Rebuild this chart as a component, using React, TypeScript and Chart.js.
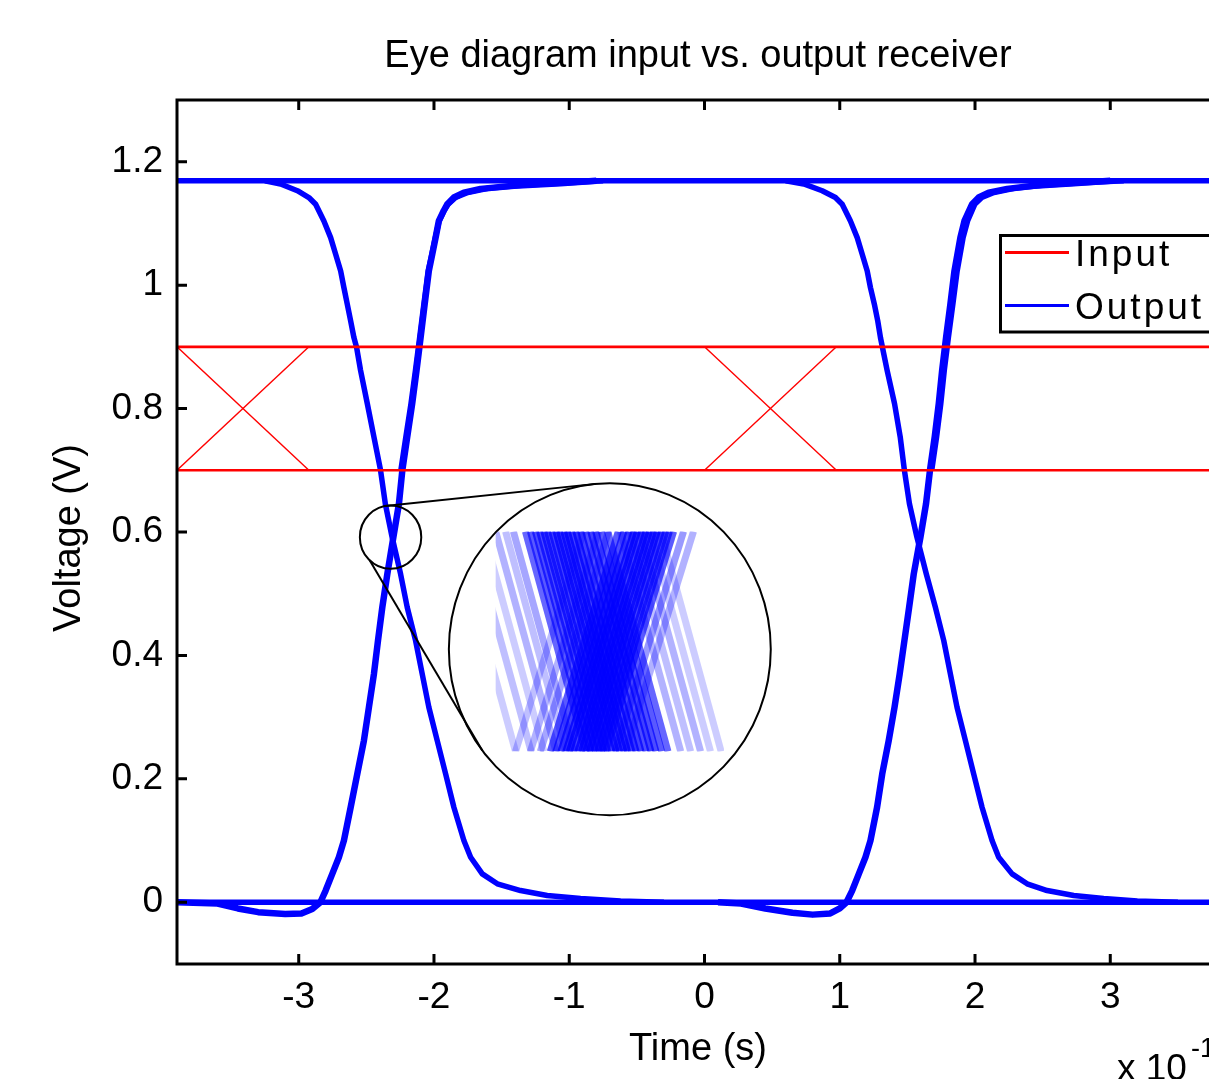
import React, { useEffect, useRef } from "react";
import { Chart, registerables } from "chart.js";

Chart.register(...registerables);

// ---------------- data (time in units of 1e-10 s, voltage in V) ----------------
const xTickValues = [-3, -2, -1, 0, 1, 2, 3];
const xTickLabels = ["-3", "-2", "-1", "0", "1", "2", "3"];
const yTickValues = [0, 0.2, 0.4, 0.6, 0.8, 1, 1.2];
const yTickLabels = ["0", "0.2", "0.4", "0.6", "0.8", "1", "1.2"];

const titleText = "Eye diagram input vs. output receiver";
const xLabelText = "Time (s)";
const yLabelText = "Voltage (V)";

// Input (red)
const inputHigh: number[][] = [[-3.9, 0.9], [3.9, 0.9]];
const inputLow: number[][] = [[-3.9, 0.7], [3.9, 0.7]];
const inputFall1: number[][] = [[-3.9, 0.9], [-2.925, 0.7]];
const inputRise1: number[][] = [[-3.9, 0.7], [-2.925, 0.9]];
const inputFall2: number[][] = [[0.0, 0.9], [0.975, 0.7]];
const inputRise2: number[][] = [[0.0, 0.7], [0.975, 0.9]];

// Output (blue)
const outputHigh: number[][] = [[-3.9, 1.169], [3.9, 1.169]];
const outputLow: number[][] = [[-3.9, 0], [3.9, 0]];
const outputFall1: number[][] = [
  [-3.25, 1.169], [-3.134, 1.164], [-3.01, 1.153], [-2.925, 1.142], [-2.875, 1.131],
  [-2.814, 1.104], [-2.764, 1.077], [-2.727, 1.05], [-2.69, 1.023], [-2.666, 0.996],
  [-2.641, 0.969], [-2.616, 0.942], [-2.592, 0.915], [-2.572, 0.899], [-2.543, 0.862],
  [-2.493, 0.808], [-2.444, 0.754], [-2.395, 0.7], [-2.36, 0.646], [-2.31, 0.592],
  [-2.247, 0.532], [-2.198, 0.478], [-2.136, 0.424], [-2.087, 0.37], [-2.038, 0.316],
  [-1.976, 0.262], [-1.914, 0.208], [-1.853, 0.154], [-1.779, 0.1], [-1.729, 0.073],
  [-1.643, 0.046], [-1.532, 0.03], [-1.36, 0.019], [-1.163, 0.011], [-0.916, 0.006],
  [-0.62, 0.002], [-0.3, 0],
];
const outputRise1: number[][] = [
  [-3.9, 0], [-3.6, -0.002], [-3.45, -0.01], [-3.3, -0.016], [-3.1, -0.019],
  [-2.98, -0.018], [-2.9, -0.011], [-2.84, 0], [-2.801, 0.019], [-2.752, 0.046],
  [-2.703, 0.073], [-2.666, 0.1], [-2.616, 0.154], [-2.567, 0.208], [-2.518, 0.262],
  [-2.481, 0.316], [-2.444, 0.37], [-2.414, 0.424], [-2.382, 0.478], [-2.345, 0.532],
  [-2.3, 0.592], [-2.259, 0.646], [-2.234, 0.7], [-2.198, 0.754], [-2.161, 0.808],
  [-2.129, 0.862], [-2.099, 0.915], [-2.069, 0.969], [-2.038, 1.023], [-2.013, 1.05],
  [-1.988, 1.077], [-1.964, 1.104], [-1.927, 1.121], [-1.902, 1.131], [-1.853, 1.142],
  [-1.779, 1.15], [-1.656, 1.156], [-1.41, 1.161], [-1.064, 1.165], [-0.8, 1.169],
];
const outputRise1b: number[][] = [
  [-2.245, 0.7], [-2.208, 0.754],
  [-2.17, 0.808], [-2.137, 0.862], [-2.106, 0.915], [-2.075, 0.969], [-2.043, 1.023],
  [-2.016, 1.05], [-1.99, 1.077], [-1.962, 1.104], [-1.925, 1.121], [-1.895, 1.131],
  [-1.84, 1.142], [-1.75, 1.15], [-1.6, 1.157], [-1.35, 1.162], [-1.0, 1.166], [-0.75, 1.169],
];
const outputFall2: number[][] = [
  [0.6, 1.169], [0.734, 1.164], [0.87, 1.153], [0.968, 1.142], [1.018, 1.131],
  [1.079, 1.104], [1.129, 1.077], [1.166, 1.05], [1.203, 1.023], [1.227, 0.996],
  [1.256, 0.969], [1.281, 0.942], [1.301, 0.915], [1.35, 0.862], [1.405, 0.808],
  [1.447, 0.754], [1.478, 0.7], [1.515, 0.646], [1.57, 0.592], [1.64, 0.532],
  [1.707, 0.478], [1.769, 0.424], [1.818, 0.37], [1.867, 0.316], [1.929, 0.262],
  [1.99, 0.208], [2.052, 0.154], [2.126, 0.1], [2.175, 0.073], [2.274, 0.046],
  [2.385, 0.03], [2.533, 0.019], [2.73, 0.011], [2.951, 0.006], [3.2, 0.002], [3.5, 0],
];
const outputRise2: number[][] = [
  [0.1, 0], [0.27, -0.002], [0.45, -0.01], [0.65, -0.017], [0.8, -0.02],
  [0.93, -0.018], [1.0, -0.01], [1.05, 0], [1.092, 0.019], [1.141, 0.046],
  [1.19, 0.073], [1.227, 0.1], [1.276, 0.154], [1.314, 0.208], [1.362, 0.262],
  [1.405, 0.316], [1.443, 0.37], [1.478, 0.424], [1.513, 0.478], [1.547, 0.532],
  [1.597, 0.592], [1.638, 0.646], [1.667, 0.7], [1.702, 0.754], [1.732, 0.808],
  [1.757, 0.862], [1.786, 0.915], [1.818, 0.969], [1.848, 1.023], [1.892, 1.077],
  [1.922, 1.104], [1.978, 1.131], [2.027, 1.142], [2.101, 1.15], [2.237, 1.156],
  [2.434, 1.161], [2.73, 1.165], [3.0, 1.169],
];
const outputRise2b: number[][] = [
  [1.68, 0.7], [1.716, 0.754],
  [1.747, 0.808], [1.773, 0.862], [1.803, 0.915], [1.836, 0.969], [1.868, 1.023],
  [1.912, 1.077], [1.945, 1.104], [1.998, 1.131], [2.05, 1.142], [2.14, 1.15],
  [2.29, 1.157], [2.5, 1.162], [2.8, 1.166], [3.1, 1.169],
];

// Magnified inset (zoom of the first crossing)
const zoomSourceCenter = [-2.321, 0.5916]; // small circle centre (data)
const zoomSourceRadius = [0.227, 0.0513];
const zoomTargetCenter = [-0.7, 0.41]; // big circle centre (data)
const zoomTargetRadius = [1.19, 0.269];
const insetWindowX = [-2.482, -2.16];
const insetWindowY = [0.56, 0.628]; // [bottom, top]
const insetFallTop = [
  -2.539, -2.517, -2.499, -2.482, -2.468, -2.457, -2.44, -2.433, -2.426, -2.42,
  -2.414, -2.409, -2.403, -2.397, -2.392, -2.386, -2.381, -2.375, -2.369, -2.362,
  -2.355, -2.348, -2.341, -2.333, -2.324, -2.306, -2.292, -2.278, -2.264, -2.249,
];
const insetFallBottom = [
  -2.454, -2.432, -2.414, -2.397, -2.383, -2.372, -2.355, -2.348, -2.341, -2.335,
  -2.329, -2.324, -2.318, -2.312, -2.307, -2.301, -2.296, -2.29, -2.284, -2.277,
  -2.27, -2.263, -2.256, -2.248, -2.239, -2.221, -2.207, -2.193, -2.179, -2.164,
];
const insetFallDensity = [
  0.2, 0.25, 0.2, 0.3, 0.25, 0.35, 0.6, 0.65, 0.7, 0.7,
  0.75, 0.7, 0.75, 0.8, 0.75, 0.8, 0.8, 0.75, 0.8, 0.75,
  0.7, 0.75, 0.7, 0.65, 0.6, 0.3, 0.25, 0.3, 0.2, 0.2,
];
const insetRiseBottom = [
  -2.454, -2.433, -2.419, -2.405, -2.397, -2.39, -2.383, -2.378, -2.372, -2.366,
  -2.361, -2.355, -2.35, -2.344, -2.338, -2.333, -2.327, -2.313, -2.299,
];
const insetRiseTop = [
  -2.358, -2.337, -2.323, -2.309, -2.301, -2.294, -2.287, -2.282, -2.276, -2.27,
  -2.265, -2.259, -2.254, -2.248, -2.242, -2.237, -2.231, -2.217, -2.203,
];
const insetRiseDensity = [
  0.25, 0.3, 0.35, 0.65, 0.7, 0.75, 0.8, 0.8, 0.75, 0.8,
  0.8, 0.75, 0.8, 0.75, 0.7, 0.7, 0.65, 0.4, 0.3,
];
// connector lines: angle (deg) on small circle -> angle on big circle
const connectorAngles = [[100, 95], [227, 217.6]];

// ---------------- styling ----------------
const RED = "#ff0000";
const BLUE = "#0000ff";
const FONT = "'Liberation Sans', Arial, Helvetica, sans-serif";

const toPts = (arr: number[][]) => arr.map(([x, y]) => ({ x, y }));
const lineDs = (label: string, pts: number[][], color: string, width: number) => ({
  label,
  data: toPts(pts),
  borderColor: color,
  backgroundColor: color,
  borderWidth: width,
  pointRadius: 0,
  fill: false,
  tension: 0,
  borderJoinStyle: "round" as const,
});

const decorPlugin = {
  id: "decor",
  afterDatasetsDraw(chart: any) {
    const { ctx, scales } = chart;
    const xs = scales.x;
    const ys = scales.y;
    ctx.save();

    // ---- inset ----
    const scx = xs.getPixelForValue(zoomSourceCenter[0]);
    const scy = ys.getPixelForValue(zoomSourceCenter[1]);
    const srx = xs.getPixelForValue(zoomSourceCenter[0] + zoomSourceRadius[0]) - scx;
    const sry = scy - ys.getPixelForValue(zoomSourceCenter[1] + zoomSourceRadius[1]);
    const tcx = xs.getPixelForValue(zoomTargetCenter[0]);
    const tcy = ys.getPixelForValue(zoomTargetCenter[1]);
    const trx = xs.getPixelForValue(zoomTargetCenter[0] + zoomTargetRadius[0]) - tcx;
    const try_ = tcy - ys.getPixelForValue(zoomTargetCenter[1] + zoomTargetRadius[1]);
    const mx = trx / srx;
    const my = try_ / sry;
    const mag = (xd: number, yd: number) => [
      tcx + (xs.getPixelForValue(xd) - scx) * mx,
      tcy + (ys.getPixelForValue(yd) - scy) * my,
    ];
    const [wl, wt] = mag(insetWindowX[0], insetWindowY[1]);
    const [wr, wb] = mag(insetWindowX[1], insetWindowY[0]);
    ctx.save();
    ctx.beginPath();
    ctx.rect(wl, wt, wr - wl, wb - wt);
    ctx.clip();
    ctx.lineWidth = 7;
    insetFallTop.forEach((xt, i) => {
      const p0 = mag(xt, insetWindowY[1]);
      const p1 = mag(insetFallBottom[i], insetWindowY[0]);
      ctx.strokeStyle = `rgba(0,0,255,${insetFallDensity[i]})`;
      ctx.beginPath();
      ctx.moveTo(p0[0], p0[1]);
      ctx.lineTo(p1[0], p1[1]);
      ctx.stroke();
    });
    insetRiseBottom.forEach((xb, i) => {
      const p0 = mag(xb, insetWindowY[0]);
      const p1 = mag(insetRiseTop[i], insetWindowY[1]);
      ctx.strokeStyle = `rgba(0,0,255,${insetRiseDensity[i]})`;
      ctx.beginPath();
      ctx.moveTo(p0[0], p0[1]);
      ctx.lineTo(p1[0], p1[1]);
      ctx.stroke();
    });
    ctx.restore();

    ctx.strokeStyle = "#000";
    ctx.lineWidth = 2;
    ctx.beginPath();
    ctx.ellipse(scx, scy, srx, sry, 0, 0, Math.PI * 2);
    ctx.stroke();
    ctx.beginPath();
    ctx.ellipse(tcx, tcy, trx, try_, 0, 0, Math.PI * 2);
    ctx.stroke();
    connectorAngles.forEach(([a1, a2]) => {
      const r1 = (a1 * Math.PI) / 180;
      const r2 = (a2 * Math.PI) / 180;
      ctx.beginPath();
      ctx.moveTo(scx + srx * Math.cos(r1), scy - sry * Math.sin(r1));
      ctx.lineTo(tcx + trx * Math.cos(r2), tcy - try_ * Math.sin(r2));
      ctx.stroke();
    });
    ctx.restore();
  },
  afterDraw(chart: any) {
    const { ctx, chartArea: a, scales } = chart;
    const xs = scales.x;
    const ys = scales.y;
    ctx.save();

    // ---- axes box and inward ticks ----
    ctx.strokeStyle = "#000";
    ctx.lineWidth = 3;
    ctx.strokeRect(a.left, a.top, a.right - a.left, a.bottom - a.top);
    ctx.beginPath();
    xs.ticks.forEach((t: any) => {
      const p = xs.getPixelForValue(t.value);
      ctx.moveTo(p, a.bottom);
      ctx.lineTo(p, a.bottom - 10);
      ctx.moveTo(p, a.top);
      ctx.lineTo(p, a.top + 10);
    });
    ys.ticks.forEach((t: any) => {
      const p = ys.getPixelForValue(t.value);
      ctx.moveTo(a.left, p);
      ctx.lineTo(a.left + 10, p);
      ctx.moveTo(a.right, p);
      ctx.lineTo(a.right - 10, p);
    });
    ctx.stroke();

    // ---- texts ----
    ctx.fillStyle = "#000";
    ctx.textAlign = "center";
    ctx.textBaseline = "alphabetic";
    ctx.font = `38px ${FONT}`;
    ctx.fillText(titleText, 698, 67);
    ctx.fillText(xLabelText, 698, 1060);
    ctx.save();
    ctx.translate(80, 538);
    ctx.rotate(-Math.PI / 2);
    ctx.fillText(yLabelText, 0, 0);
    ctx.restore();

    ctx.textAlign = "left";
    ctx.font = `37px ${FONT}`;
    const mult = "x 10";
    ctx.fillText(mult, 1117, 1080);
    const mw = ctx.measureText(mult).width;
    ctx.font = `27px ${FONT}`;
    ctx.fillText("-10", 1117 + mw + 4, 1057);

    // ---- legend ----
    const items = chart.data.datasets.filter((d: any) => d.label);
    const lx = 1000.5;
    const ly = 235.5;
    const lh = 96.5;
    ctx.fillStyle = "#fff";
    ctx.fillRect(lx, ly, 300, lh);
    ctx.strokeStyle = "#000";
    ctx.lineWidth = 3;
    ctx.strokeRect(lx, ly, 300, lh);
    ctx.font = `37px ${FONT}`;
    (ctx as any).letterSpacing = "3px";
    items.forEach((d: any, i: number) => {
      const y = 252.5 + i * 53;
      ctx.strokeStyle = d.borderColor;
      ctx.lineWidth = 3;
      ctx.beginPath();
      ctx.moveTo(1005, y);
      ctx.lineTo(1069, y);
      ctx.stroke();
      ctx.fillStyle = "#000";
      ctx.fillText(d.label, 1075, y + 13.5);
    });
    (ctx as any).letterSpacing = "0px";
    ctx.restore();
  },
};

export default function App() {
  const canvasRef = useRef<HTMLCanvasElement | null>(null);

  useEffect(() => {
    const canvas = canvasRef.current;
    if (!canvas) return;
    const datasets = [
      lineDs("Input", inputHigh, RED, 2.6),
      lineDs("", inputLow, RED, 2.6),
      lineDs("", inputFall1, RED, 1.4),
      lineDs("", inputRise1, RED, 1.4),
      lineDs("", inputFall2, RED, 1.4),
      lineDs("", inputRise2, RED, 1.4),
      lineDs("Output", outputHigh, BLUE, 5.5),
      lineDs("", outputLow, BLUE, 5.5),
      lineDs("", outputFall1, BLUE, 5.5),
      lineDs("", outputRise1, BLUE, 6.5),
      lineDs("", outputRise1b, BLUE, 5.5),
      lineDs("", outputFall2, BLUE, 5.5),
      lineDs("", outputRise2, BLUE, 6.5),
      lineDs("", outputRise2b, BLUE, 5.5),
    ];
    const chart = new Chart(canvas, {
      type: "line",
      data: { datasets } as any,
      options: {
        responsive: false,
        animation: false,
        devicePixelRatio: 1,
        events: [],
        layout: { padding: { top: 100, right: 48, bottom: 0, left: 0 } },
        plugins: {
          legend: { display: false },
          tooltip: { enabled: false },
          title: { display: false },
        },
        scales: {
          x: {
            type: "linear",
            min: -3.9,
            max: 3.9,
            grid: { display: false, drawTicks: false },
            border: { display: false },
            afterBuildTicks: (s: any) => {
              s.ticks = xTickValues.map((v) => ({ value: v }));
            },
            afterFit: (s: any) => {
              s.height = 115;
            },
            ticks: {
              autoSkip: false,
              maxRotation: 0,
              padding: 12,
              color: "#000",
              font: { size: 37, family: FONT },
              callback: (_v: any, i: number) => xTickLabels[i],
            },
          },
          y: {
            type: "linear",
            min: -0.1,
            max: 1.3,
            grid: { display: false, drawTicks: false },
            border: { display: false },
            afterBuildTicks: (s: any) => {
              s.ticks = yTickValues.map((v) => ({ value: v }));
            },
            afterFit: (s: any) => {
              s.width = 177;
            },
            ticks: {
              autoSkip: false,
              padding: 14,
              color: "#000",
              font: { size: 37, family: FONT },
              callback: (_v: any, i: number) => yTickLabels[i],
            },
          },
        },
      } as any,
      plugins: [decorPlugin],
    });
    return () => chart.destroy();
  }, []);

  return (
    <div
      style={{
        position: "fixed",
        left: 0,
        top: 0,
        width: 1209,
        height: 1079,
        overflow: "hidden",
        background: "#fff",
      }}
    >
      <canvas ref={canvasRef} width={1280} height={1079} style={{ display: "block" }} />
    </div>
  );
}
